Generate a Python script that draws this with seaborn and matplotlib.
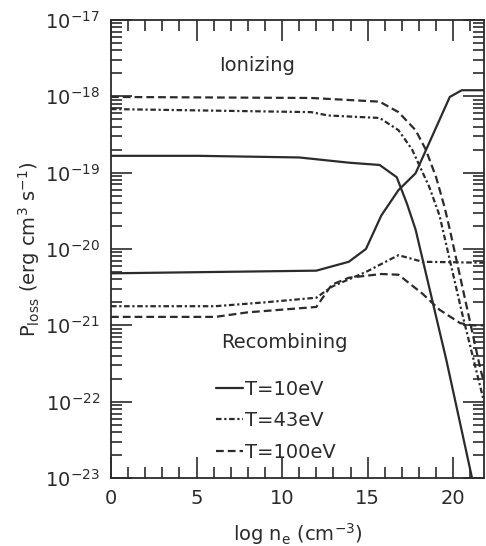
import numpy as np
import pandas as pd
import seaborn as sns
import matplotlib.pyplot as plt
from matplotlib.ticker import FixedLocator, LogLocator, NullFormatter, MultipleLocator

# ionizing curves
x_ion_10 = [0, 5.1, 11.0, 13.9, 15.7, 16.7, 17.3, 17.8, 19.6, 21.1, 21.3]
y_ion_10 = [1.66e-19, 1.66e-19, 1.58e-19, 1.35e-19, 1.26e-19, 8.7e-20, 3.9e-20, 1.8e-20, 3.5e-22, 1.0e-23, 5e-24]

x_ion_43 = [0, 11.7, 12.7, 15.7, 16.8, 17.6, 18.6, 19.2, 20.5, 21.9]
y_ion_43 = [6.8e-19, 6.2e-19, 5.6e-19, 5.2e-19, 3.6e-19, 2.0e-19, 6.5e-20, 2.75e-20, 1.5e-21, 8.1e-23]

x_ion_100 = [0, 11.7, 15.7, 16.8, 17.8, 18.4, 19.0, 19.5, 19.8, 21.6, 21.9]
y_ion_100 = [9.8e-19, 9.5e-19, 8.5e-19, 6.2e-19, 3.6e-19, 2.0e-19, 8.7e-20, 3.5e-20, 1.8e-20, 2.6e-22, 1.5e-22]

# recombining curves
x_rec_10 = [0, 12.0, 13.9, 14.9, 15.8, 16.8, 17.8, 18.8, 19.8, 20.5, 21.9]
y_rec_10 = [4.8e-21, 5.2e-21, 6.8e-21, 1.0e-20, 2.75e-20, 5.9e-20, 9.8e-20, 3.1e-19, 9.8e-19, 1.2e-18, 1.2e-18]

x_rec_43 = [0, 6.1, 9.0, 12.0, 12.9, 14.9, 16.8, 18.2, 21.9]
y_rec_43 = [1.78e-21, 1.78e-21, 2.0e-21, 2.3e-21, 3.2e-21, 5.0e-21, 8.3e-21, 6.8e-21, 6.6e-21]

x_rec_100 = [0, 6.1, 8.0, 12.0, 12.9, 13.9, 15.8, 16.8, 18.2, 19.2, 20.4, 21.1, 21.9]
y_rec_100 = [1.29e-21, 1.29e-21, 1.48e-21, 1.74e-21, 3.4e-21, 4.2e-21, 4.7e-21, 4.6e-21, 2.6e-21, 1.6e-21, 1.07e-21, 1.0e-21, 1.0e-21]

labels = ["T=10eV", "T=43eV", "T=100eV"]
decades = [1e-23, 1e-22, 1e-21, 1e-20, 1e-19, 1e-18, 1e-17]

sns.set_style("ticks")
plt.rcParams['font.family'] = ['DejaVu Sans']
ink = "#2b2b2b"
styles = ["-", (0, (2.5, 1.2, 1, 1.2)), (0, (3.5, 1.8))]

fig = plt.figure(figsize=(4.86, 5.46), dpi=100)
ax = fig.add_axes([0.2284, 0.1245, 0.7675, 0.839])

ion = [(x_ion_10, y_ion_10), (x_ion_43, y_ion_43), (x_ion_100, y_ion_100)]
rec = [(x_rec_10, y_rec_10), (x_rec_43, y_rec_43), (x_rec_100, y_rec_100)]

for i in range(3):
    d = pd.DataFrame({"x": ion[i][0], "y": ion[i][1]})
    sns.lineplot(data=d, x="x", y="y", ax=ax, color=ink, lw=1.6, label=labels[i])
    ax.lines[-1].set_linestyle(styles[i])
    d = pd.DataFrame({"x": rec[i][0], "y": rec[i][1]})
    sns.lineplot(data=d, x="x", y="y", ax=ax, color=ink, lw=1.6)
    ax.lines[-1].set_linestyle(styles[i])

ax.set_yscale("log")
ax.set_xlim(0, 21.8)
ax.set_ylim(1e-23, 1e-17)
ax.xaxis.set_major_locator(MultipleLocator(5))
ax.xaxis.set_minor_locator(MultipleLocator(1))
ax.yaxis.set_major_locator(FixedLocator(decades))
ax.yaxis.set_minor_locator(LogLocator(base=10, subs=np.arange(2, 10), numticks=10))
ax.yaxis.set_minor_formatter(NullFormatter())

ax.tick_params(which="both", direction="in", top=True, right=True, colors=ink, labelsize=14, width=1.2)
ax.tick_params(which="major", length=15, pad=8)
ax.tick_params(which="minor", length=8)
for s in ax.spines.values():
    s.set_color(ink)
    s.set_linewidth(1.3)

ax.set_xlabel(r"log n$_{\rm e}$ (cm$^{-3}$)", fontsize=14, color=ink, labelpad=9)
ax.set_ylabel(r"P$_{\rm loss}$ (erg cm$^3$ s$^{-1}$)", fontsize=14, color=ink, labelpad=2)

ax.text(8.56, 10**-17.60, "Ionizing", fontsize=14, color=ink, ha="center", va="center")
ax.text(10.15, 10**-21.23, "Recombining", fontsize=14, color=ink, ha="center", va="center")

leg = ax.legend(loc="upper left", bbox_to_anchor=(0.26, 0.232), frameon=False, fontsize=14,
                handlelength=1.4, handletextpad=0.1, labelspacing=0.65, borderaxespad=0)
for t in leg.get_texts():
    t.set_color(ink)

fig.savefig("out.png", dpi=100)
